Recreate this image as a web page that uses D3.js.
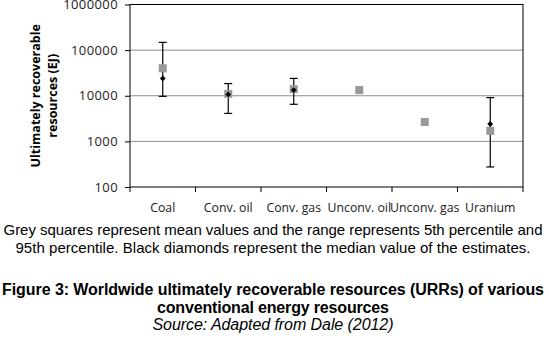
<!DOCTYPE html>
<html>
<head>
    <title>Worldwide ultimately recoverable resources</title>
    <script src="https://cdnjs.cloudflare.com/ajax/libs/d3/7.8.5/d3.min.js"></script>
    <style>
        body { margin: 0; background: #fff; }
        svg { display: block; }
        .tick-label { font-family: "Open Sans", sans-serif; fill: #222; }
        .caption { font-family: "Liberation Sans", Arial, sans-serif; fill: #000; }
    </style>
</head>
<body>
    <div id="chart"></div>
    <script>
        // Data (EJ)
        const categories = ["Coal", "Conv. oil", "Conv. gas", "Unconv. oil", "Unconv. gas", "Uranium"];
        const meanValues = [40000, 11000, 14000, 13300, 2650, 1700];
        const medianValues = [24000, 10700, 13300, null, null, 2400];
        const p5Values = [9700, 4100, 6500, null, null, 275];
        const p95Values = [148000, 18500, 24000, null, null, 9100];
        const yTicks = [100, 1000, 10000, 100000, 1000000];

        const W = 549, H = 339;
        const plot = {left: 130, right: 523, top: 4.5, bottom: 187};

        const svg = d3.select("#chart").append("svg")
            .attr("width", W)
            .attr("height", H);

        const x = d3.scaleBand().domain(categories).range([plot.left, plot.right]);
        const y = d3.scaleLog().domain([100, 1000000]).range([plot.bottom, plot.top]);

        // Gridlines
        svg.append("g")
            .selectAll("line")
            .data(yTicks.slice(1, -1))
            .join("line")
                .attr("x1", plot.left)
                .attr("x2", plot.right)
                .attr("y1", d => y(d))
                .attr("y2", d => y(d))
                .attr("stroke", "#8c8c8c")
                .attr("stroke-width", 1);

        // Border box
        svg.append("rect")
            .attr("x", plot.left)
            .attr("y", plot.top)
            .attr("width", plot.right - plot.left)
            .attr("height", plot.bottom - plot.top)
            .attr("fill", "none")
            .attr("stroke", "#000")
            .attr("stroke-width", 1);

        // Y axis
        const yAxis = svg.append("g")
            .attr("transform", `translate(${plot.left},0)`)
            .call(d3.axisLeft(y).tickValues(yTicks).tickFormat(d3.format("d")).tickSize(5).tickPadding(7));
        yAxis.select(".domain").remove();
        yAxis.selectAll("text")
            .attr("class", "tick-label")
            .attr("font-size", 13)
            .attr("letter-spacing", 0.4);

        // X axis: ticks at band edges
        const xAxis = svg.append("g")
            .attr("transform", `translate(0,${plot.bottom})`);
        xAxis.selectAll("line")
            .data(categories.concat(["end"]))
            .join("line")
                .attr("x1", (d, i) => i < categories.length ? x(d) : plot.right)
                .attr("x2", (d, i) => i < categories.length ? x(d) : plot.right)
                .attr("y1", 0)
                .attr("y2", 5)
                .attr("stroke", "#000");
        xAxis.selectAll("text")
            .data(categories)
            .join("text")
                .attr("class", "tick-label")
                .attr("x", d => x(d) + x.bandwidth() / 2)
                .attr("y", 25)
                .attr("text-anchor", "middle")
                .attr("font-size", 12.3)
                .text(d => d);

        // Y axis title
        const titleG = svg.append("g")
            .attr("transform", `translate(0,${(plot.top + plot.bottom) / 2}) rotate(-90)`);
        titleG.append("text")
            .attr("x", 0).attr("y", 40)
            .attr("text-anchor", "middle")
            .attr("font-family", "Open Sans, sans-serif")
            .attr("font-weight", "bold")
            .attr("font-size", 12.5)
            .text("Ultimately recoverable");
        titleG.append("text")
            .attr("x", 0).attr("y", 57)
            .attr("text-anchor", "middle")
            .attr("font-family", "Open Sans, sans-serif")
            .attr("font-weight", "bold")
            .attr("font-size", 12.5)
            .text("resources (EJ)");

        const cx = i => x(categories[i]) + x.bandwidth() / 2;
        const idx = d3.range(categories.length);

        // Error bars (5th - 95th percentile)
        const bars = svg.append("g")
            .selectAll("g")
            .data(idx.filter(i => p5Values[i] != null))
            .join("g")
                .attr("stroke", "#000")
                .attr("stroke-width", 1.2);
        bars.append("line")
            .attr("x1", cx).attr("x2", cx)
            .attr("y1", i => y(p5Values[i]))
            .attr("y2", i => y(p95Values[i]));
        bars.append("line")
            .attr("x1", i => cx(i) - 4).attr("x2", i => cx(i) + 4)
            .attr("y1", i => y(p5Values[i])).attr("y2", i => y(p5Values[i]));
        bars.append("line")
            .attr("x1", i => cx(i) - 4).attr("x2", i => cx(i) + 4)
            .attr("y1", i => y(p95Values[i])).attr("y2", i => y(p95Values[i]));

        // Grey squares (mean)
        svg.append("g")
            .selectAll("rect")
            .data(idx)
            .join("rect")
                .attr("x", i => cx(i) - 4)
                .attr("y", i => y(meanValues[i]) - 4)
                .attr("width", 8)
                .attr("height", 8)
                .attr("fill", "#999999");

        // Black diamonds (median)
        const diamond = d3.symbol().type(d3.symbolDiamond2).size(22);
        svg.append("g")
            .selectAll("path")
            .data(idx.filter(i => medianValues[i] != null))
            .join("path")
                .attr("d", diamond)
                .attr("transform", i => `translate(${cx(i)},${y(medianValues[i])})`)
                .attr("fill", "#000");

        // Caption text (widths matched to the figure)
        const lines = [
            {t: "Grey squares represent mean values and the range represents 5th percentile and", y: 235, w: "normal", s: "normal", f: 15, len: 539},
            {t: "95th percentile. Black diamonds represent the median value of the estimates.", y: 253, w: "normal", s: "normal", f: 15, len: 515},
            {t: "Figure 3: Worldwide ultimately recoverable resources (URRs) of various", y: 295, w: "bold", s: "normal", f: 16, len: 542},
            {t: "conventional energy resources", y: 313, w: "bold", s: "normal", f: 16, len: 232},
            {t: "Source: Adapted from Dale (2012)", y: 330, w: "normal", s: "italic", f: 16, len: 241}
        ];
        svg.append("g")
            .selectAll("text")
            .data(lines)
            .join("text")
                .attr("class", "caption")
                .attr("x", 273)
                .attr("y", d => d.y)
                .attr("text-anchor", "middle")
                .attr("font-size", d => d.f)
                .attr("font-weight", d => d.w)
                .attr("font-style", d => d.s)
                .attr("textLength", d => d.len)
                .attr("lengthAdjust", "spacing")
                .text(d => d.t);
    </script>
</body>
</html>
